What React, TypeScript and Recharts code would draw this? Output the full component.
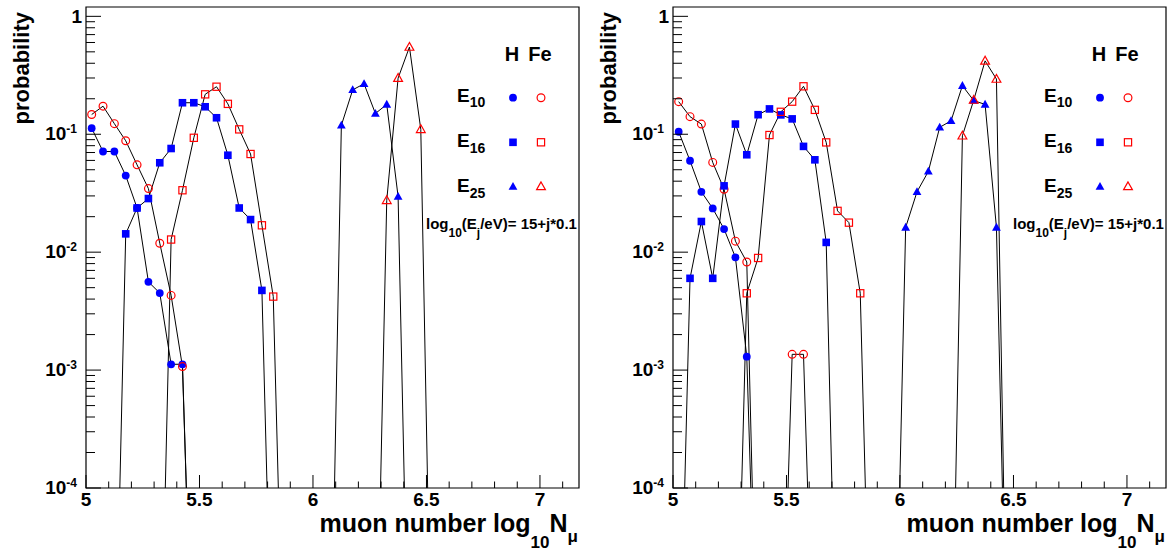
import React from 'react';
import { LineChart, Line, XAxis, YAxis, ReferenceArea, Legend } from 'recharts';

const FONT = '"Liberation Sans", Arial, Helvetica, sans-serif';
const BLUE = '#0000ff';
const RED = '#ff0000';

const X_MIN = 5;
const X_MAX = 7.172;
const Y_MIN = 1e-4;
const Y_MAX = 1.2;
const BIN = 0.05;
// empty bins sit far below the frame, so the curve just drops out of the pad
const EMPTY = 1e-6;

const X_LABELS = [5, 5.5, 6, 6.5, 7];
const X_TICKS = [5, 5.1, 5.2, 5.3, 5.4, 5.5, 5.6, 5.7, 5.8, 5.9, 6, 6.1, 6.2, 6.3, 6.4, 6.5, 6.6, 6.7, 6.8, 6.9, 7, 7.1];
const Y_DECADES = [1, 0.1, 0.01, 0.001, 0.0001];
const Y_EXPONENTS = ['', '-1', '-2', '-3', '-4'];
const Y_MINOR_STEPS = [2, 3, 4, 5, 6, 7, 8, 9];
const Y_TICKS = [
  ...Y_DECADES,
  ...Y_DECADES.slice(1).flatMap((d) => Y_MINOR_STEPS.map((k) => d * k)),
];

// left pad: probability per log10(N_mu) bin, first value at the given bin centre
const leftHE10 = [0.1125, 0.0714, 0.0714, 0.0446, 0.0237, 0.0056, 0.0045, 0.00112, 0.00112, 0]; // from 5.025
const leftFeE10 = [0.147, 0.173, 0.123, 0.088, 0.055, 0.0346, 0.0119, 0.0043, 0.00107, 0]; // from 5.025
const leftHE16 = [0, 0.0143, 0.0237, 0.0285, 0.0573, 0.0757, 0.185, 0.185, 0.171, 0.138, 0.0664, 0.0237, 0.0189, 0.00474, 0]; // from 5.125
const leftFeE16 = [0, 0.0128, 0.0335, 0.0933, 0.218, 0.253, 0.181, 0.11, 0.068, 0.0169, 0.0042, 0]; // from 5.325
const leftHE25 = [0, 0.119, 0.238, 0.268, 0.15, 0.179, 0.0296, 0]; // from 6.075
const leftFeE25 = [0, 0.0275, 0.299, 0.549, 0.11, 0]; // from 6.275

// right pad
const rightHE10 = [0.105, 0.0596, 0.0325, 0.0235, 0.0157, 0.00905, 0.0013, 0]; // from 5.025
const rightFeE10 = [0.189, 0.141, 0.122, 0.0577, 0.0342, 0.0124, 0.00826, 0, 0, 0, 0.00136, 0.00136, 0]; // from 5.025
const rightHE16 = [0, 0.006, 0.0182, 0.006, 0.0365, 0.122, 0.067, 0.1465, 0.164, 0.146, 0.135, 0.0789, 0.0607, 0.0121, 0]; // from 5.025
const rightFeE16 = [0, 0.00448, 0.00893, 0.0985, 0.155, 0.189, 0.255, 0.161, 0.0853, 0.0224, 0.0178, 0.00448, 0]; // from 5.275
const rightHE25 = [0, 0.0162, 0.0325, 0.0484, 0.1145, 0.13, 0.258, 0.193, 0.179, 0.0162, 0]; // from 5.975
const rightFeE25 = [0, 0.097, 0.195, 0.419, 0.294, 0]; // from 6.225

type Mark = 'circle' | 'square' | 'triangle';
type Curve = { id: string; start: number; values: number[]; mark: Mark; filled: boolean };

const leftCurves: Curve[] = [
  { id: 'lH10', start: 5.025, values: leftHE10, mark: 'circle', filled: true },
  { id: 'lFe10', start: 5.025, values: leftFeE10, mark: 'circle', filled: false },
  { id: 'lH16', start: 5.125, values: leftHE16, mark: 'square', filled: true },
  { id: 'lFe16', start: 5.325, values: leftFeE16, mark: 'square', filled: false },
  { id: 'lH25', start: 6.075, values: leftHE25, mark: 'triangle', filled: true },
  { id: 'lFe25', start: 6.275, values: leftFeE25, mark: 'triangle', filled: false },
];

const rightCurves: Curve[] = [
  { id: 'rH10', start: 5.025, values: rightHE10, mark: 'circle', filled: true },
  { id: 'rFe10', start: 5.025, values: rightFeE10, mark: 'circle', filled: false },
  { id: 'rH16', start: 5.025, values: rightHE16, mark: 'square', filled: true },
  { id: 'rFe16', start: 5.275, values: rightFeE16, mark: 'square', filled: false },
  { id: 'rH25', start: 5.975, values: rightHE25, mark: 'triangle', filled: true },
  { id: 'rFe25', start: 6.225, values: rightFeE25, mark: 'triangle', filled: false },
];

const toPoints = (c: Curve) =>
  c.values.map((v, i) => ({ x: +(c.start + i * BIN).toFixed(3), p: v > 0 ? v : EMPTY, raw: v }));

const Marker = ({ cx, cy, mark, filled }: { cx: number; cy: number; mark: Mark; filled: boolean }) => {
  const color = filled ? BLUE : RED;
  const fill = filled ? BLUE : 'none';
  const sw = filled ? 0 : 1.2;
  if (mark === 'circle') {
    return <circle cx={cx} cy={cy} r={3.9} fill={fill} stroke={color} strokeWidth={sw} />;
  }
  if (mark === 'square') {
    const h = filled ? 3.8 : 3.6;
    return <rect x={cx - h} y={cy - h} width={2 * h} height={2 * h} fill={fill} stroke={color} strokeWidth={sw} />;
  }
  const pts = `${cx},${cy - 4.6} ${cx - 4.4},${cy + 3.2} ${cx + 4.4},${cy + 3.2}`;
  return <polygon points={pts} fill={fill} stroke={color} strokeWidth={sw} />;
};

const makeDot = (c: Curve) => (props: any) => {
  const { cx, cy, payload, index } = props;
  const key = `${c.id}-${index}`;
  if (!(payload && payload.raw > 0)) return <g key={key} />;
  return (
    <g key={key}>
      <Marker cx={cx} cy={cy} mark={c.mark} filled={c.filled} />
    </g>
  );
};

const XTick = (props: any) => {
  const { x, y, payload } = props;
  const v = payload.value as number;
  const major = X_LABELS.some((l) => Math.abs(l - v) < 1e-6);
  return (
    <g>
      <line x1={x} x2={x} y1={y} y2={y - (major ? 13 : 6.5)} stroke="#000" strokeWidth={1} />
      {major && (
        <text x={x} y={y + 18} textAnchor="middle" fontFamily={FONT} fontWeight="bold" fontSize={19} fill="#000">
          {String(v)}
        </text>
      )}
    </g>
  );
};

const YTick = (props: any) => {
  const { x, y, payload } = props;
  const v = payload.value as number;
  const idx = Y_DECADES.findIndex((d) => Math.abs(Math.log10(d) - Math.log10(v)) < 1e-6);
  const major = idx >= 0;
  return (
    <g>
      <line x1={x} x2={x + (major ? 15 : 9)} y1={y} y2={y} stroke="#000" strokeWidth={1} />
      {major && idx === 0 && (
        <text x={x - 4} y={y + 7} textAnchor="end" fontFamily={FONT} fontWeight="bold" fontSize={19} fill="#000">
          1
        </text>
      )}
      {major && idx > 0 && (
        <text x={x - 9} y={y + 6} textAnchor="end" fontFamily={FONT} fontWeight="bold" fontSize={19} fill="#000">
          10
          <tspan dy={-7} fontSize={12}>
            {Y_EXPONENTS[idx]}
          </tspan>
        </text>
      )}
    </g>
  );
};

const YTitle = () => (
  <text
    x={29}
    y={12}
    transform="rotate(-90 29 12)"
    textAnchor="end"
    fontFamily={FONT}
    fontWeight="bold"
    fontSize={22}
    fill="#000"
  >
    probability
  </text>
);

const XTitle = () => (
  <text x={578} y={532} textAnchor="end" fontFamily={FONT} fontWeight="bold" fontSize={25} fill="#000">
    muon number log
    <tspan dy={16} fontSize={17}>10</tspan>
    <tspan dy={-16}>N</tspan>
    <tspan dy={10} fontSize={17}>μ</tspan>
  </text>
);

const LEGEND_ROWS: { label: string; mark: Mark }[] = [
  { label: '10', mark: 'circle' },
  { label: '16', mark: 'square' },
  { label: '25', mark: 'triangle' },
];
const ROW_Y = [97.7, 142.3, 186.5];
const ROW_BASE = [101.7, 147.3, 192.3];

const PadLegend = () => (
  <svg width={586} height={552} style={{ display: 'block', pointerEvents: 'none' }}>
    <g fontFamily={FONT} fontWeight="bold" fill="#000">
      <text x={512} y={61} textAnchor="middle" fontSize={20}>H</text>
      <text x={540} y={61} textAnchor="middle" fontSize={20}>Fe</text>
      {LEGEND_ROWS.map((r, i) => (
        <g key={r.label}>
          <text x={457} y={ROW_BASE[i]} fontSize={19}>
            E<tspan dy={5.5} fontSize={14}>{r.label}</tspan>
          </text>
          <Marker cx={513} cy={ROW_Y[i]} mark={r.mark} filled />
          <Marker cx={541} cy={ROW_Y[i]} mark={r.mark} filled={false} />
        </g>
      ))}
      <text x={426} y={229} fontSize={15}>
        log<tspan dy={8} fontSize={12}>10</tspan>
        <tspan dy={-8}>(E</tspan>
        <tspan dy={8} fontSize={12}>j</tspan>
        <tspan dy={-8}>/eV)= 15+j*0.1</tspan>
      </text>
    </g>
  </svg>
);

const Pad = ({ curves }: { curves: Curve[] }) => (
  <LineChart width={586} height={552} margin={{ top: 7, right: 7, bottom: 24, left: 0 }}>
    <XAxis
      dataKey="x"
      type="number"
      domain={[X_MIN, X_MAX]}
      allowDataOverflow
      ticks={X_TICKS}
      interval={0}
      tickSize={0}
      tickMargin={0}
      axisLine={false}
      tickLine={false}
      tick={<XTick />}
      height={40}
      label={<XTitle />}
    />
    <YAxis
      type="number"
      scale="log"
      domain={[Y_MIN, Y_MAX]}
      allowDataOverflow
      ticks={Y_TICKS}
      interval={0}
      tickSize={0}
      tickMargin={0}
      axisLine={false}
      tickLine={false}
      tick={<YTick />}
      width={86}
      label={<YTitle />}
    />
    {curves.map((c) => (
      <Line
        key={c.id}
        data={toPoints(c)}
        dataKey="p"
        name={c.id}
        type="linear"
        stroke="#000"
        strokeWidth={1}
        dot={makeDot(c)}
        activeDot={false}
        isAnimationActive={false}
      />
    ))}
    <ReferenceArea
      x1={X_MIN}
      x2={X_MAX}
      y1={Y_MIN}
      y2={Y_MAX}
      fill="none"
      stroke="#000"
      strokeWidth={1.2}
      ifOverflow="visible"
    />
    <Legend
      layout="horizontal"
      verticalAlign="middle"
      align="center"
      content={() => <PadLegend />}
      wrapperStyle={{ left: 0, top: 0, width: 586, height: 552 }}
    />
  </LineChart>
);

export default function App() {
  return (
    <div style={{ position: 'absolute', left: 0, top: 0, width: 1173, height: 552, background: '#fff' }}>
      <div style={{ position: 'absolute', left: 0, top: 0 }}>
        <Pad curves={leftCurves} />
      </div>
      <div style={{ position: 'absolute', left: 587, top: 0 }}>
        <Pad curves={rightCurves} />
      </div>
    </div>
  );
}
